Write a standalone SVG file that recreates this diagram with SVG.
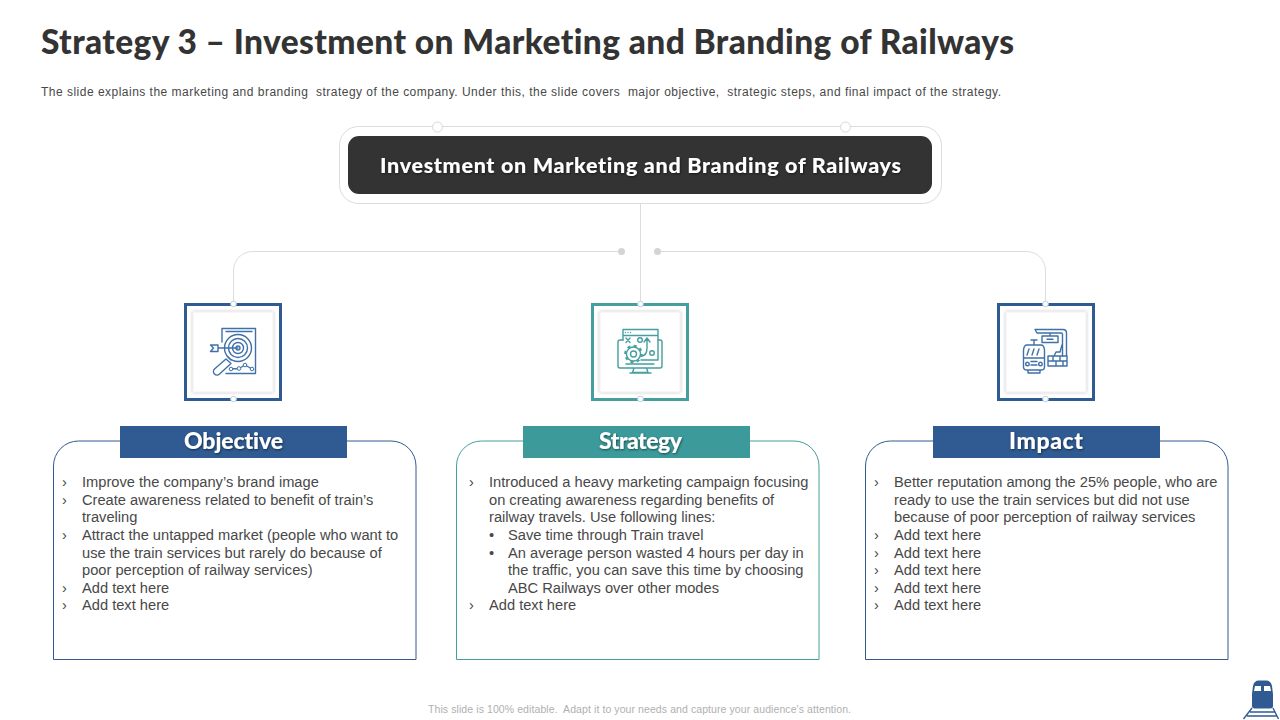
<svg xmlns="http://www.w3.org/2000/svg" width="1280" height="720" viewBox="0 0 1280 720">
<defs>
<filter id="ts" x="-10%" y="-20%" width="120%" height="150%"><feDropShadow dx="0.600" dy="1" stdDeviation="0.800" flood-color="#000" flood-opacity=".55"/></filter>
<filter id="soft" x="-10%" y="-10%" width="120%" height="120%"><feDropShadow dx="0" dy="0" stdDeviation="1.500" flood-color="#000" flood-opacity=".28"/></filter>
</defs>
<style>
.h{font-family:"Lato","Liberation Sans",sans-serif;font-weight:900;font-variant-ligatures:none;font-feature-settings:"liga" 0}
.b{font-family:"Liberation Sans",Arial,sans-serif;font-size:14.67px;fill:#484848}
.c{fill:none;stroke:#dcdcdc;stroke-width:1}
.ci{fill:#fff;stroke:#d9d9d9;stroke-width:1}
.dot{fill:#d4d4d4}
.lab{font-size:23px;fill:#fff;text-anchor:middle;filter:url(#ts)}
.in{fill:#fff;stroke:#f0f0f0;stroke-width:1;filter:url(#soft)}
.ib{fill:none;stroke:#3f70a8;stroke-width:1.400;stroke-linejoin:round;stroke-linecap:round}
.it{fill:none;stroke:#469e9e;stroke-width:1.400;stroke-linejoin:round;stroke-linecap:round}
.sm{fill:#fff;stroke:#bfd0e0;stroke-width:1}
.pre{white-space:pre}
</style>
<rect width="1280" height="720" fill="#fff"/>
<text x="41" y="53.500" class="h" font-size="33.500" fill="#333" textLength="973">Strategy 3 – Investment on Marketing and Branding of Railways</text>
<text x="41" y="95.500" class="pre" font-family="Liberation Sans, Arial, sans-serif" font-size="12" fill="#484848" textLength="960">The slide explains the marketing and branding  strategy of the company. Under this, the slide covers  major objective,  strategic steps, and final impact of the strategy.</text>
<g id="connectors">
<path class="c" d="M432.500 126.500H358.500a19 19 0 0 0-19 19V184.500a19 19 0 0 0 19 19H922.500a19 19 0 0 0 19-19V145.500a19 19 0 0 0-19-19H851M443 126.500H840"/>
<path class="c" d="M640.500 204V304"/>
<path class="c" d="M621 251.500H252.500a19 19 0 0 0-19 19V304"/>
<path class="c" d="M658 251.500H1026.500a19 19 0 0 1 19 19V304"/>
<circle class="ci" cx="437.500" cy="127" r="5"/>
<circle class="ci" cx="845.500" cy="127" r="5"/>
<circle class="dot" cx="621.500" cy="251.500" r="3.500"/>
<circle class="dot" cx="657.500" cy="251.500" r="3.500"/>
</g>
<g id="title-node">
<rect x="348" y="136" width="584" height="58" rx="11" fill="#333"/>
<text x="640.500" y="173" class="h" font-size="21.500" fill="#fff" text-anchor="middle" textLength="521" filter="url(#ts)">Investment on Marketing and Branding of Railways</text>
</g>
<g id="icon-objective">
<rect x="185.500" y="304.500" width="95" height="95" fill="#fff" stroke="#2f5b92" stroke-width="3"/>
<rect x="193" y="312" width="80" height="80" class="in"/>
<path class="ib" d="M222 342V328.500H255.500V373.500H226M226 331.500H252"/>
<circle class="ib" cx="238" cy="348" r="13.500" fill="#fff"/><circle class="ib" cx="238" cy="348" r="9.500"/><circle class="ib" cx="238" cy="348" r="5.500"/><circle class="ib" cx="238" cy="348" r="2"/>
<path class="ib" d="M238 348H218M218 345H210.500L213.500 348L210.500 351.500H218Z"/>
<path class="ib" d="M226 359L214.500 369a3.500 3.500 0 0 0 5 5L231 363.500ZM231 360L228 357"/>
<path class="ib" d="M231 369L239 368.500L245 365L252 369"/>
<circle cx="231" cy="369" r="1.800" fill="#fff" stroke="#3f70a8"/><circle cx="239" cy="368.500" r="1.800" fill="#fff" stroke="#3f70a8"/><circle cx="245" cy="365" r="1.800" fill="#fff" stroke="#3f70a8"/><circle cx="252" cy="369" r="1.800" fill="#fff" stroke="#3f70a8"/>
<circle class="sm" cx="233.500" cy="304" r="2.800"/><circle class="sm" cx="233.500" cy="399" r="2.800"/>
</g>
<g id="icon-strategy">
<rect x="592.500" y="304.500" width="95" height="95" fill="#fff" stroke="#469e9e" stroke-width="3"/>
<rect x="600" y="312" width="80" height="80" class="in"/>
<path class="it" d="M623 340V329.500H658V360H641M623 335.500H658"/>
<path class="it" d="M623 340H620Q618 340 618 342V366Q618 368 620 368H660Q662 368 662 366V342Q662 340 660 340H658M626 364H654M634 368L632.500 372.500H648L646.500 368M630 373H651"/>
<path class="it" d="M626 338L630 342.500M630 338L626 342.500M647 339V348Q647 356 641 356M644 342L647 338L650 342"/>
<circle class="it" cx="640" cy="340" r="2.300"/><circle class="it" cx="652" cy="353" r="2.300"/>
<circle cx="625.500" cy="332.500" r=".7" fill="#469e9e"/><circle cx="628" cy="332.500" r=".7" fill="#469e9e"/><circle cx="630.500" cy="332.500" r=".7" fill="#469e9e"/>
<circle cx="633.500" cy="354" r="7" fill="#fff" stroke="#469e9e" stroke-width="1.400"/><circle cx="633.500" cy="354" r="8.300" fill="none" stroke="#469e9e" stroke-width="2" stroke-dasharray="3 3.500"/><circle class="it" cx="633.500" cy="354" r="3"/>
<circle class="sm" cx="640.500" cy="304" r="2.800"/><circle class="sm" cx="640.500" cy="399" r="2.800"/>
</g>
<g id="icon-impact">
<rect x="998.500" y="304.500" width="95" height="95" fill="#fff" stroke="#2f5b92" stroke-width="3"/>
<rect x="1006" y="312" width="80" height="80" class="in"/>
<path class="ib" d="M1035 329.500H1063Q1066.500 329.500 1066.500 333V356M1062.500 356V334Q1062.500 333 1061 333H1037L1035 329.500M1050 333V336M1042 336H1058V342.500H1042ZM1047 339.200H1053"/>
<path class="ib" d="M1048 356H1067V366H1048ZM1048 361H1067M1053 356V361M1060 356V361M1056 361V366M1063 361V366M1054 356L1056 352H1060L1062 345"/>
<path class="ib" d="M1034 345V341M1031 340H1037M1027 345H1041Q1044 345 1044.500 350V367Q1044.500 370 1041 370H1027Q1023.500 370 1023.500 367V350Q1024 345 1027 345ZM1024 358H1044M1029 349L1027 355M1034 349L1032 355M1039 349L1037 355M1031 361.500H1037M1031 365H1037M1028 370V373H1040V370"/>
<circle class="ib" cx="1027.500" cy="364" r="1.800"/><circle class="ib" cx="1040.500" cy="364" r="1.800"/>
<circle class="sm" cx="1045.500" cy="304" r="2.800"/><circle class="sm" cx="1045.500" cy="399" r="2.800"/>
</g>
<g id="objective">
<path fill="#fff" stroke="#2f5b92" stroke-width="1" d="M53.500 659.500V466a25 25 0 0 1 25-25H391a25 25 0 0 1 25 25V659.500Z"/>
<rect x="120" y="426" width="227" height="32" fill="#2f5b92"/>
<text x="233.500" y="448.500" class="h lab" textLength="99">Objective</text>
<g class="b" transform="translate(0 .6)">
<text x="62" y="486">›</text><text x="82" y="486">Improve the company’s brand image</text>
<text x="62" y="504">›</text><text x="82" y="504">Create awareness related to benefit of train’s</text>
<text x="82" y="521">traveling</text>
<text x="62" y="539">›</text><text x="82" y="539">Attract the untapped market (people who want to</text>
<text x="82" y="557">use the train services but rarely do because of</text>
<text x="82" y="574">poor perception of railway services)</text>
<text x="62" y="592">›</text><text x="82" y="592">Add text here</text>
<text x="62" y="609">›</text><text x="82" y="609">Add text here</text>
</g></g>
<g id="strategy">
<path fill="#fff" stroke="#469e9e" stroke-width="1" d="M456.500 659.500V466a25 25 0 0 1 25-25H794a25 25 0 0 1 25 25V659.500Z"/>
<rect x="523" y="426" width="227" height="32" fill="#3c9a9a"/>
<text x="640.500" y="448.500" class="h lab" textLength="83">Strategy</text>
<g class="b" transform="translate(0 .6)">
<text x="469" y="486">›</text><text x="489" y="486">Introduced a heavy marketing campaign focusing</text>
<text x="489" y="504">on creating awareness regarding benefits of</text>
<text x="489" y="521">railway travels. Use following lines:</text>
<text x="489" y="539">•</text><text x="508" y="539">Save time through Train travel</text>
<text x="489" y="557">•</text><text x="508" y="557">An average person wasted 4 hours per day in</text>
<text x="508" y="574">the traffic, you can save this time by choosing</text>
<text x="508" y="592">ABC Railways over other modes</text>
<text x="469" y="609">›</text><text x="489" y="609">Add text here</text>
</g></g>
<g id="impact">
<path fill="#fff" stroke="#2f5b92" stroke-width="1" d="M865.500 659.500V466a25 25 0 0 1 25-25H1203a25 25 0 0 1 25 25V659.500Z"/>
<rect x="933" y="426" width="227" height="32" fill="#2f5b92"/>
<text x="1046" y="448.500" class="h lab" textLength="74">Impact</text>
<g class="b" transform="translate(0 .6)">
<text x="874" y="486">›</text><text x="894" y="486">Better reputation among the 25% people, who are</text>
<text x="894" y="504">ready to use the train services but did not use</text>
<text x="894" y="521">because of poor perception of railway services</text>
<text x="874" y="539">›</text><text x="894" y="539">Add text here</text>
<text x="874" y="557">›</text><text x="894" y="557">Add text here</text>
<text x="874" y="574">›</text><text x="894" y="574">Add text here</text>
<text x="874" y="592">›</text><text x="894" y="592">Add text here</text>
<text x="874" y="609">›</text><text x="894" y="609">Add text here</text>
</g></g>
<text x="639.500" y="713" class="pre" font-family="Liberation Sans, Arial, sans-serif" font-size="10.500" fill="#b0b0b0" text-anchor="middle" textLength="423">This slide is 100% editable.  Adapt it to your needs and capture your audience's attention.</text>
<g id="logo">
<path fill="#2f5b92" d="M1253 686Q1254 680.500 1259 680.500H1266Q1271 680.500 1272 686L1273 694V706Q1273 708.500 1270 708.500H1255Q1252 708.500 1252 706V694Z"/>
<path fill="#fff" d="M1255 686H1261V691H1254ZM1264 686H1270L1271 691H1264Z"/>
<path fill="none" stroke="#2f5b92" stroke-width="1.400" d="M1252 708L1243.500 719M1273 708L1278.500 719M1250 712H1275M1247 716H1277"/>
</g>
</svg>
